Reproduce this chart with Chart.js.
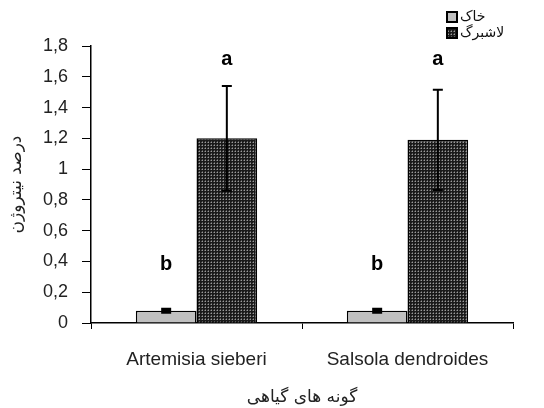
<!DOCTYPE html>
<html>
<head>
<meta charset="utf-8">
<script src="https://cdn.jsdelivr.net/npm/chart.js@4"></script>
<style>
  body { margin: 0; background: #fff; }
</style>
</head>
<body>
<canvas id="nChart" width="544" height="408"></canvas>
<script>
const categories = ['Artemisia sieberi', 'Salsola dendroides'];
const seriesNames = ['خاک', 'لاشبرگ'];
const soilValues = [0.08, 0.08];
const soilErrors = [0.01, 0.01];
const litterValues = [1.2, 1.19];
const litterErrors = [0.34, 0.325];
const soilLetters = ['b', 'b'];
const litterLetters = ['a', 'a'];
const soilLetterAt = [0.38, 0.38];
const litterLetterAt = [1.71, 1.71];
const yTicksMax = 1.8;

function makePattern() {
    const c = document.createElement('canvas');
    c.width = 3; c.height = 3;
    const g = c.getContext('2d');
    g.fillStyle = '#1a1a1a';
    g.fillRect(0, 0, 3, 3);
    g.fillStyle = '#9a9a9a';
    g.fillRect(1, 1, 1, 1);
    g.fillStyle = '#555';
    g.fillRect(0, 1, 1, 1);
    g.fillRect(1, 0, 1, 1);
    return document.getElementById('nChart').getContext('2d').createPattern(c, 'repeat');
}
const litterFill = makePattern();

const errorBars = {
    id: 'errorBars',
    afterDatasetsDraw(chart) {
        const ctx = chart.ctx;
        const y = chart.scales.y;
        const errs = [soilErrors, litterErrors];
        const caps = [5, 5];
        ctx.save();
        ctx.strokeStyle = '#000';
        chart.data.datasets.forEach(function (ds, i) {
            const meta = chart.getDatasetMeta(i);
            meta.data.forEach(function (bar, j) {
                const v = ds.data[j];
                const top = y.getPixelForValue(v + errs[i][j]);
                const bot = y.getPixelForValue(v - errs[i][j]);
                ctx.lineWidth = i === 0 ? 3 : 2;
                ctx.beginPath();
                ctx.moveTo(bar.x, top); ctx.lineTo(bar.x, bot);
                ctx.moveTo(bar.x - caps[i], top); ctx.lineTo(bar.x + caps[i], top);
                ctx.moveTo(bar.x - caps[i], bot); ctx.lineTo(bar.x + caps[i], bot);
                ctx.stroke();
            });
        });
        // significance letters
        ctx.fillStyle = '#000';
        ctx.font = 'bold 20px "Liberation Sans", Arial, sans-serif';
        ctx.textAlign = 'center';
        ctx.textBaseline = 'middle';
        const letters = [soilLetters, litterLetters];
        const at = [soilLetterAt, litterLetterAt];
        chart.data.datasets.forEach(function (ds, i) {
            chart.getDatasetMeta(i).data.forEach(function (bar, j) {
                ctx.fillText(letters[i][j], bar.x, y.getPixelForValue(at[i][j]));
            });
        });
        ctx.restore();
    }
};

const boxLegend = {
    id: 'boxLegend',
    afterDraw(chart) {
        const ctx = chart.ctx;
        const fills = ['#c0c0c0', litterFill];
        ctx.save();
        ctx.font = '14px "DejaVu Sans", sans-serif';
        ctx.textBaseline = 'middle';
        ctx.textAlign = 'left';
        seriesNames.forEach(function (name, i) {
            const cy = 17 + i * 16;
            ctx.fillStyle = fills[i];
            ctx.fillRect(447, cy - 5, 10, 10);
            ctx.strokeStyle = '#000';
            ctx.lineWidth = 2;
            ctx.strokeRect(447, cy - 5, 10, 10);
            ctx.fillStyle = '#111';
            ctx.fillText(name, 460, cy);
        });
        ctx.restore();
    }
};

new Chart(document.getElementById('nChart'), {
    type: 'bar',
    data: {
        labels: categories,
        datasets: [{
            label: seriesNames[0],
            data: soilValues,
            backgroundColor: '#c0c0c0',
            borderColor: '#000',
            borderWidth: 1.5
        }, {
            label: seriesNames[1],
            data: litterValues,
            backgroundColor: litterFill,
            borderColor: '#000',
            borderWidth: 1.5
        }]
    },
    options: {
        responsive: false,
        animation: false,
        layout: { padding: { top: 46, right: 31, left: 0, bottom: 0 } },
        categoryPercentage: 0.575,
        barPercentage: 1.0,
        plugins: {
            legend: { display: false },
            tooltip: { enabled: false }
        },
        scales: {
            x: {
                afterFit: function (s) { s.height = 85; },
                grid: { drawOnChartArea: false, offset: true, tickLength: 6, color: '#000', lineWidth: 1 },
                border: { color: '#000', width: 1.5 },
                ticks: { color: '#222', padding: 19, font: { size: 19, family: '"Liberation Sans", Arial, sans-serif' } },
                title: {
                    display: true,
                    text: 'گونه های گیاهی',
                    color: '#222',
                    font: { size: 17, family: '"DejaVu Sans", sans-serif' },
                    padding: { top: 4, bottom: 0 }
                }
            },
            y: {
                min: 0,
                max: yTicksMax,
                afterFit: function (s) { s.width = 91; },
                grid: { drawOnChartArea: false, tickLength: 9, color: '#000' },
                border: { color: '#000', width: 1.5 },
                ticks: {
                    stepSize: 0.2,
                    color: '#222',
                    padding: 14,
                    font: { size: 18, family: '"Liberation Sans", Arial, sans-serif' },
                    callback: function (v) { return String(Math.round(v * 10) / 10).replace('.', ','); }
                },
                title: {
                    display: true,
                    text: 'درصد نیتروژن',
                    color: '#222',
                    font: { size: 17, family: '"DejaVu Sans", sans-serif' },
                    padding: { top: 6, bottom: 0 }
                }
            }
        }
    },
    plugins: [errorBars, boxLegend]
});
</script>
</body>
</html>
